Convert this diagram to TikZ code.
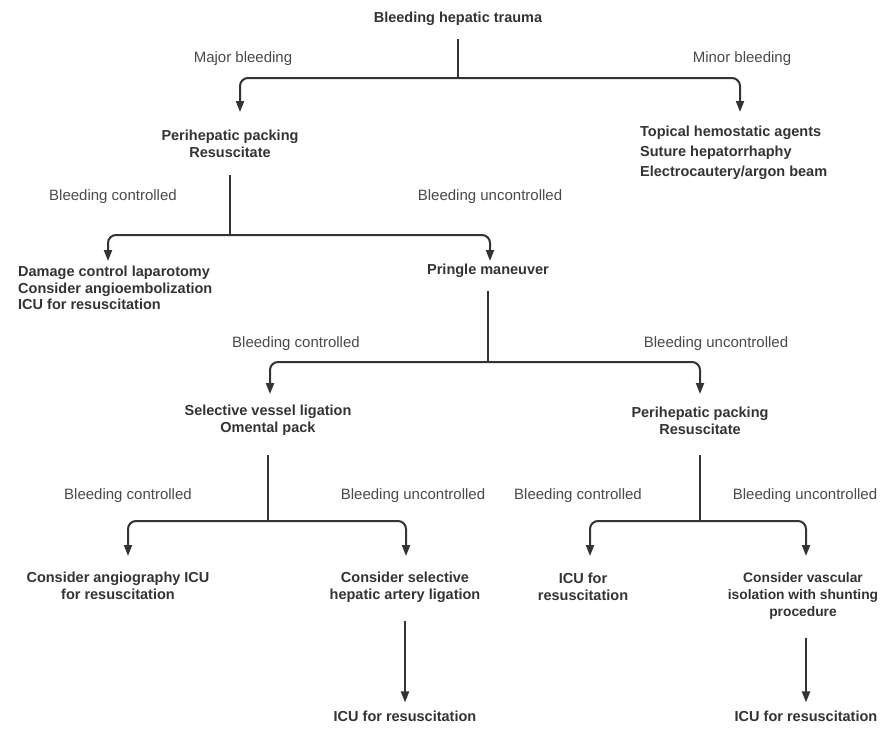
\documentclass[tikz,border=0pt]{standalone}
\usepackage{fontspec}
\setmainfont{Liberation Sans}
\usetikzlibrary{arrows.meta}
\definecolor{ink}{HTML}{333333}
\definecolor{lblink}{HTML}{4A4A4A}
\begin{document}
\begin{tikzpicture}[x=1pt,y=-1pt,
  txt/.style={font=\bfseries\fontsize{14.5}{17}\selectfont, text=ink, align=center, inner sep=0pt},
  lbl/.style={font=\fontsize{15}{17}\selectfont, text=lblink, inner sep=0pt},
  ln/.style={draw=ink, line width=2pt},
  arr/.style={ln, rounded corners=8pt, -{Triangle[length=11pt,width=8pt]}},
]
\useasboundingbox (0,0) rectangle (885,728);
% level 0
\node[txt] (t) at (458,19) {Bleeding hepatic trauma};
\node[lbl] (lmaj) at (243,59) {Major bleeding};
\node[lbl] (lmin) at (742,59) {Minor bleeding};
\coordinate (j1) at (458,78);
\coordinate (a1) at (240,112);
\coordinate (a2) at (740,112);
\draw[ln] ([yshift=-13pt]t.south) -- (j1);
\draw[arr] (j1) -| (a1);
\draw[arr] (j1) -| (a2);
% level 1
\node[txt] (pp1) at (230,144) {Perihepatic packing\\Resuscitate};
\node[txt, align=left, anchor=west, font=\bfseries\fontsize{14.5}{20}\selectfont] (top) at (640,153) {Topical hemostatic agents\\Suture hepatorrhaphy\\Electrocautery/argon beam};
\node[lbl] (bc1) at (113,197) {Bleeding controlled};
\node[lbl] (bu1) at (490,197) {Bleeding uncontrolled};
\coordinate (j2) at (230,235);
\coordinate (a3) at (108,261);
\coordinate (a4) at (490,261);
\draw[ln] ([yshift=-17pt]pp1.south) -- (j2);
\draw[arr] (j2) -| (a3);
\draw[arr] (j2) -| (a4);
% level 2
\node[txt, align=left, anchor=west, font=\bfseries\fontsize{14.5}{16.5}\selectfont] (dcl) at (18,288) {Damage control laparotomy\\Consider angioembolization\\ICU for resuscitation};
\node[txt] (pm) at (488,271) {Pringle maneuver};
\node[lbl] (bc2) at (296,344) {Bleeding controlled};
\node[lbl] (bu2) at (716,344) {Bleeding uncontrolled};
\coordinate (j3) at (488,362);
\coordinate (a5) at (270,394);
\coordinate (a6) at (700,394);
\draw[ln] ([yshift=-13pt]pm.south) -- (j3);
\draw[arr] (j3) -| (a5);
\draw[arr] (j3) -| (a6);
% level 3
\node[txt] (svl) at (268,420) {Selective vessel ligation\\Omental pack};
\node[txt] (pp2) at (700,421) {Perihepatic packing\\Resuscitate};
\node[lbl] (bc3) at (128,496) {Bleeding controlled};
\node[lbl] (bu3) at (413,496) {Bleeding uncontrolled};
\node[lbl] (bc4) at (578,496) {Bleeding controlled};
\node[lbl] (bu4) at (805,496) {Bleeding uncontrolled};
\coordinate (j4) at (268,521);
\coordinate (j5) at (700,521);
\coordinate (a7) at (128,556);
\coordinate (a8) at (406,556);
\coordinate (a9) at (590,556);
\coordinate (a10) at (806,556);
\draw[ln] ([yshift=-20pt]svl.south) -- (j4);
\draw[arr] (j4) -| (a7);
\draw[arr] (j4) -| (a8);
\draw[ln] ([yshift=-20pt]pp2.south) -- (j5);
\draw[arr] (j5) -| (a9);
\draw[arr] (j5) -| (a10);
% level 4
\node[txt] (ca) at (118,586) {Consider angiography ICU\\for resuscitation};
\node[txt] (csh) at (405,587) {Consider selective\\hepatic artery ligation};
\node[txt] (icu1) at (583,587) {ICU for\\resuscitation};
\node[txt, font=\bfseries\fontsize{13.8}{17}\selectfont] (cvi) at (803,596) {Consider vascular\\isolation with shunting\\procedure};
\node[txt] (icu2) at (405,716) {ICU for resuscitation};
\node[txt] (icu3) at (806,716) {ICU for resuscitation};
\draw[arr] ([yshift=-18pt]csh.south) -- ([yshift=8pt]icu2.north);
\draw[arr] ([yshift=-18pt]cvi.south -| icu3.north) -- ([yshift=8pt]icu3.north);
\end{tikzpicture}
\end{document}
